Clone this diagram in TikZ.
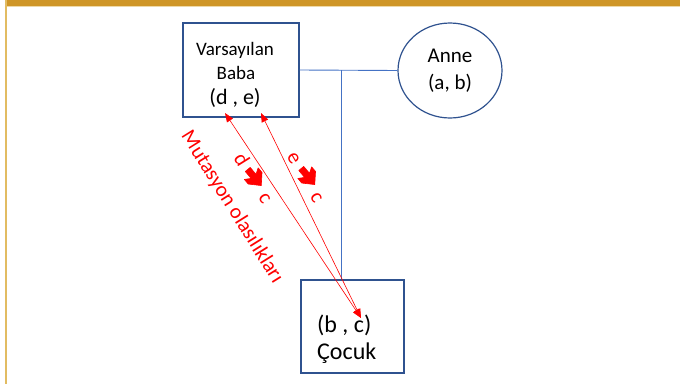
\documentclass[tikz,border=0pt]{standalone}
\usepackage{fontspec}
\setmainfont{Carlito}
\usetikzlibrary{shapes.geometric,arrows.meta}
\definecolor{bargold}{HTML}{CF9628}
\definecolor{barpale}{HTML}{EED9A8}
\definecolor{sidegold}{HTML}{E2BC62}
\definecolor{outline}{HTML}{2F528F}
\definecolor{linkblue}{HTML}{4472C4}
\tikzset{
  person/.style={draw=outline, line width=1.2pt, fill=white, inner sep=0pt},
  link/.style={draw=linkblue, line width=0.9pt},
  mut/.style={draw=red, line width=0.6pt, {Triangle[length=9pt,width=7pt]}-{Triangle[length=9pt,width=7pt]}},
  lbl/.style={inner sep=0pt, text=black},
  redlbl/.style={inner sep=0pt, text=red, font=\fontsize{21}{23}\selectfont},
  blockarrow/.style={fill=red, draw=red, line width=0.6pt, line join=round},
}
% chunky block arrow, tip towards +x, centred on the origin
\newcommand\blockarrowpath{(-10.5,3.2) -- (-1.5,3.2) -- (-5,9) -- (1,9) -- (10.5,0) -- (1,-9) -- (-5,-9) -- (-1.5,-3.2) -- (-10.5,-3.2) -- cycle}
\begin{document}
\begin{tikzpicture}[x=1pt,y=-1pt]
\useasboundingbox (0,0) rectangle (680,388);
% page frame: gold band along the top and a thin rule at the left
\fill[bargold] (5,0) rectangle (680,6);
\draw[barpale, line width=1pt] (5,6.5) -- (680,6.5);
\draw[sidegold, line width=1.5pt] (6,0) -- (6,384);

% family members
\node[person, rectangle, minimum width=116pt, minimum height=94pt] (baba) at (241,70) {};
\node[person, ellipse, minimum width=104pt, minimum height=95pt] (anne) at (450,70.5) {};
\node[person, rectangle, minimum width=103pt, minimum height=93pt] (cocuk) at (352.5,326.5) {};

\node[lbl, font=\fontsize{19}{21}\selectfont] (babaname1) at (235,50) {Varsayılan};
\node[lbl, font=\fontsize{19}{21}\selectfont] (babaname2) at (236,73) {Baba};
\node[lbl, font=\fontsize{22}{24}\selectfont] (babagen) at (235,98) {(d , e)};

\node[lbl, font=\fontsize{21}{24}\selectfont] (annename) at (450,56) {Anne};
\node[lbl, font=\fontsize{21}{24}\selectfont] (annegen) at (450,83) {(a, b)};

\node[lbl, anchor=west, font=\fontsize{24}{26}\selectfont] (cocukgen) at (317,325) {(b , c)};
\node[lbl, anchor=west, font=\fontsize{24}{26}\selectfont] (cocukname) at (317,353) {Çocuk};

% marriage line and descent line
\draw[link] (baba.east) -- (anne.west);
\coordinate (junction) at (341,70);
\draw[link] (junction) -- (junction |- cocuk.north);

% mutation arrows between the alleles
\coordinate (dtip) at (225,113);
\coordinate (etip) at (261,113);
\coordinate (ctip) at (361,318);
\draw[mut] (ctip) -- (dtip);
\draw[mut] (ctip) -- (etip);

% rotated labels
\node[redlbl, rotate=-58] (mutlbl) at (232,207) {Mutasyon olasılıkları};
\node[redlbl, rotate=-58] (dclbl) at (254,178) {d\hspace{36pt}c};
\node[redlbl, rotate=-60] (eclbl) at (304.5,177.5) {e\hspace{36pt}c};
\fill[blockarrow, shift={(254.5,177.5)}, rotate=-50] \blockarrowpath;
\fill[blockarrow, shift={(308,176.5)}, rotate=-50] \blockarrowpath;
\end{tikzpicture}
\end{document}
